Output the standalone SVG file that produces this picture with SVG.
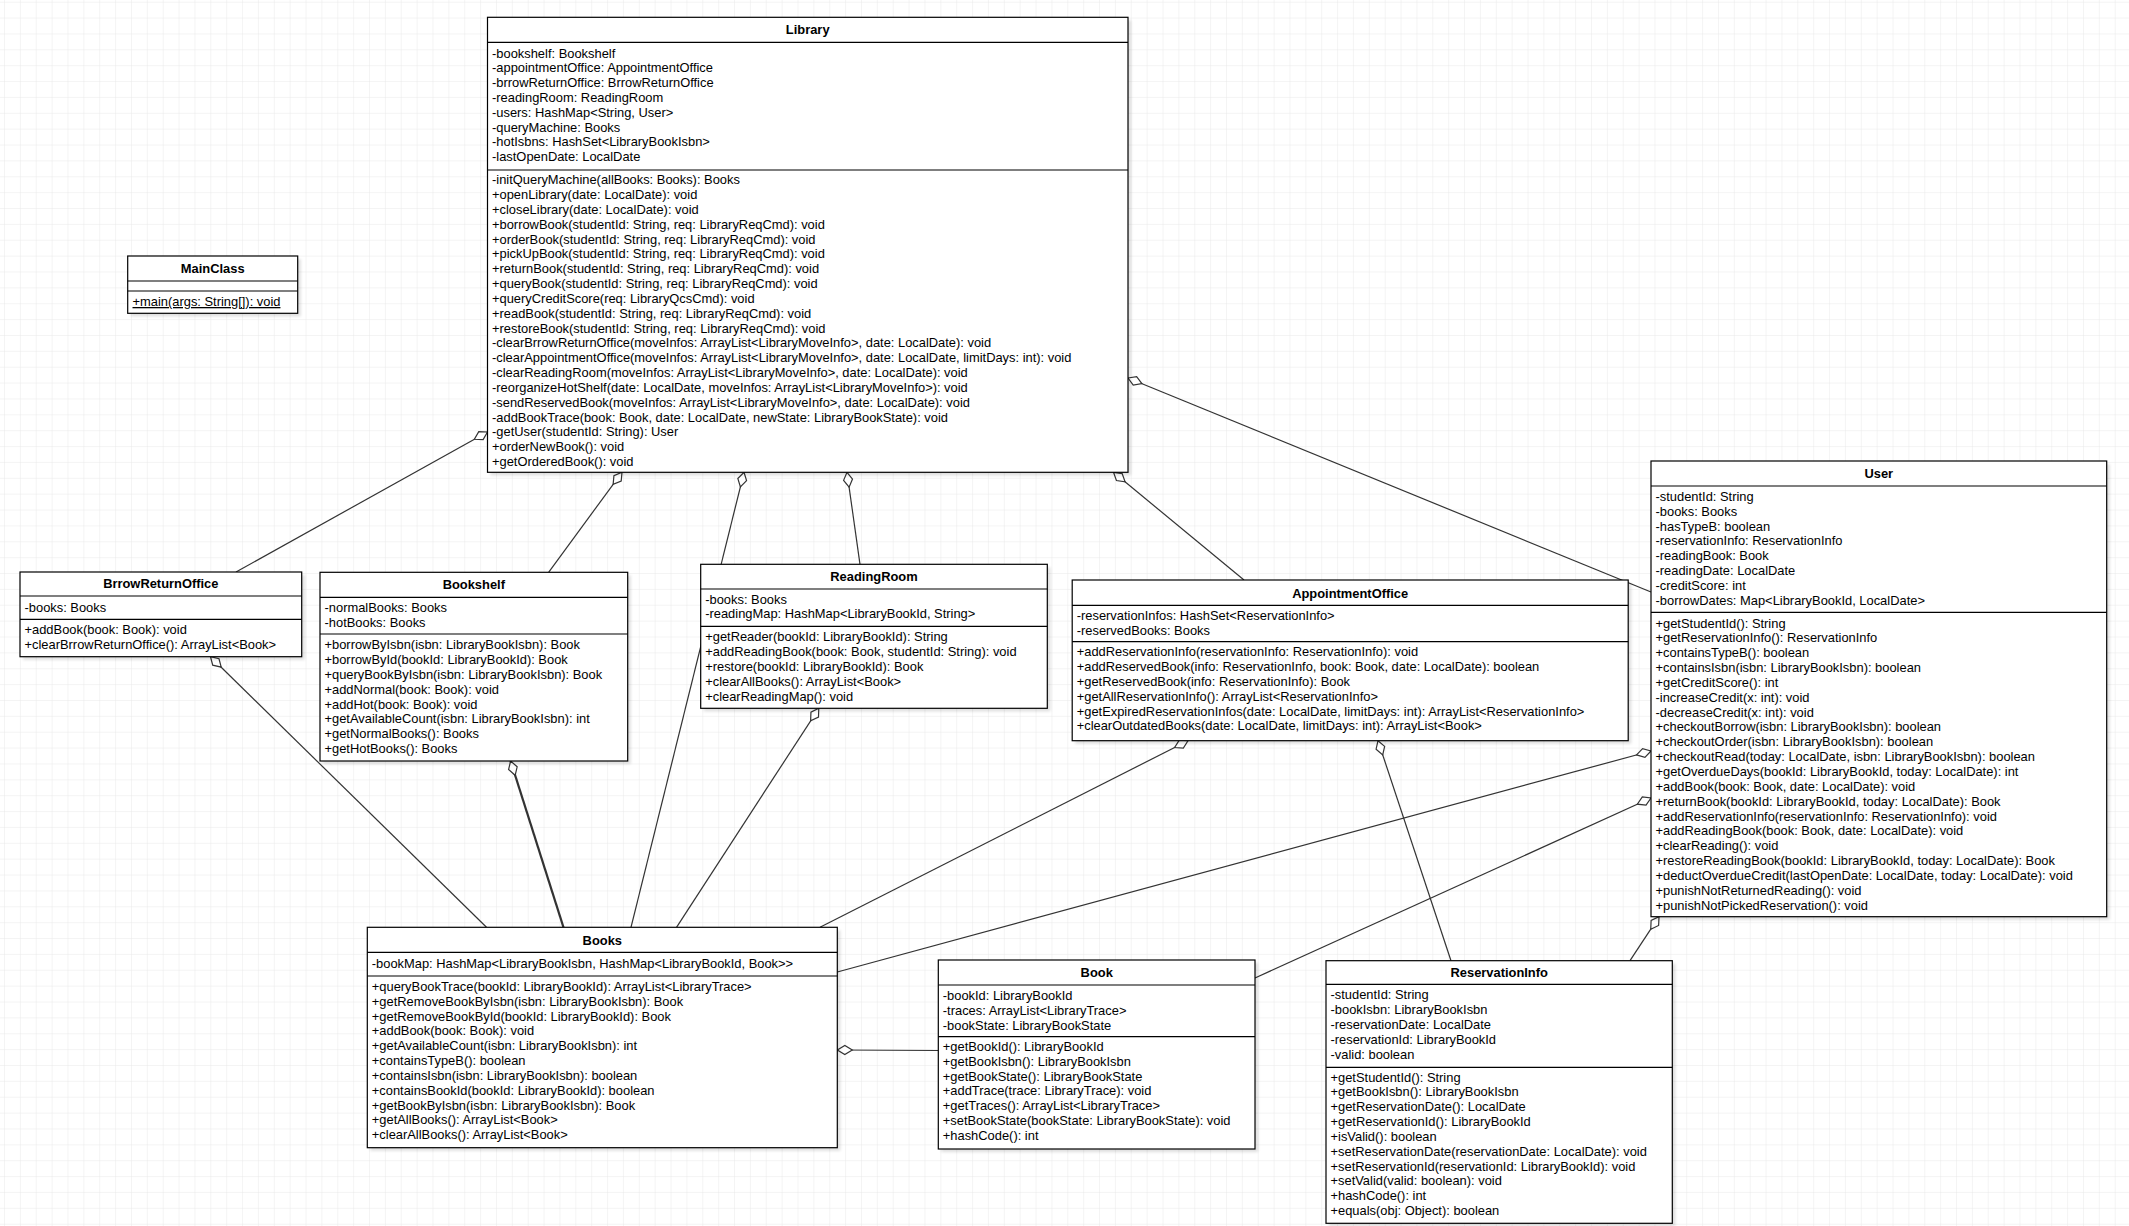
<svg xmlns="http://www.w3.org/2000/svg" width="2129" height="1226" viewBox="0 0 2129 1226">
<style>
.box{fill:#fff;stroke:#000;stroke-width:1.2}
.div{stroke:#000;stroke-width:1.2}
.sh{fill:#000;opacity:0.13;filter:url(#blur)}
.t{font-family:"Liberation Sans",Arial,Helvetica,sans-serif;font-size:12.9px;fill:#000}
.tt{font-family:"Liberation Sans",Arial,Helvetica,sans-serif;font-size:12.9px;font-weight:bold;fill:#000;text-anchor:middle}
.c{fill:none;stroke:#333;stroke-width:1.2;marker-start:url(#agg)}
</style>
<defs>
<pattern id="grid" patternUnits="userSpaceOnUse" x="4" y="1.7" width="15.87" height="15.87">
<path d="M15.87 0 L0 0 0 15.87" fill="none" stroke="#e9e9e9" stroke-width="1"/>
</pattern>
<filter id="blur" x="-10%" y="-10%" width="120%" height="120%"><feGaussianBlur stdDeviation="1.5"/></filter>
<marker id="agg" markerUnits="userSpaceOnUse" markerWidth="16" markerHeight="12" refX="0" refY="6" orient="auto" viewBox="0 0 16 12" overflow="visible">
<path d="M0,6 L7.5,1.5 L15,6 L7.5,10.5 Z" fill="#fff" stroke="#333" stroke-width="1.2"/>
</marker>
</defs>
<rect x="0" y="0" width="2129" height="1226" fill="#fff"/>
<rect x="0" y="0" width="2129" height="1226" fill="url(#grid)"/>

<g id="connectors">
<path class="c" d="M487.5 432 L236 572"/>
<path class="c" d="M622 472.3 L548.6 572.3"/>
<path class="c" d="M744 472.3 L631 927.3"/>
<path class="c" d="M847 472.3 L860 564.3"/>
<path class="c" d="M1113.5 472.3 L1244 580"/>
<path class="c" d="M1128 378 L1651 592"/>
<path class="c" d="M210.5 656.7 L486.5 927.3"/>
<path class="c" d="M510.6 761 L563.5 927.3" style="stroke-width:2.2"/>
<path class="c" d="M818.8 708.3 L676.5 927.3"/>
<path class="c" d="M1188 740.7 L820 927.3"/>
<path class="c" d="M1651 751 L837.3 972"/>
<path class="c" d="M1651 798 L1255 978"/>
<path class="c" d="M1659 916.7 L1630 960.7"/>
<path class="c" d="M1378 740.7 L1451 960.7"/>
<path class="c" d="M837.3 1050 L938.3 1050.5"/>
</g>

<g id="Library">
<rect class="sh" x="490.5" y="20.3" width="640.5" height="455"/>
<rect class="box" x="487.5" y="17.3" width="640.5" height="455"/>
<line class="div" x1="487.5" y1="42.3" x2="1128" y2="42.3"/>
<line class="div" x1="487.5" y1="170" x2="1128" y2="170"/>
<text class="tt" x="807.7" y="34.3">Library</text>
<text class="t" y="57.6">
<tspan x="492">-bookshelf: Bookshelf</tspan>
<tspan x="492" dy="14.8">-appointmentOffice: AppointmentOffice</tspan>
<tspan x="492" dy="14.8">-brrowReturnOffice: BrrowReturnOffice</tspan>
<tspan x="492" dy="14.8">-readingRoom: ReadingRoom</tspan>
<tspan x="492" dy="14.8">-users: HashMap&lt;String, User&gt;</tspan>
<tspan x="492" dy="14.8">-queryMachine: Books</tspan>
<tspan x="492" dy="14.8">-hotIsbns: HashSet&lt;LibraryBookIsbn&gt;</tspan>
<tspan x="492" dy="14.8">-lastOpenDate: LocalDate</tspan>
</text>
<text class="t" y="184.3">
<tspan x="492">-initQueryMachine(allBooks: Books): Books</tspan>
<tspan x="492" dy="14.83">+openLibrary(date: LocalDate): void</tspan>
<tspan x="492" dy="14.83">+closeLibrary(date: LocalDate): void</tspan>
<tspan x="492" dy="14.83">+borrowBook(studentId: String, req: LibraryReqCmd): void</tspan>
<tspan x="492" dy="14.83">+orderBook(studentId: String, req: LibraryReqCmd): void</tspan>
<tspan x="492" dy="14.83">+pickUpBook(studentId: String, req: LibraryReqCmd): void</tspan>
<tspan x="492" dy="14.83">+returnBook(studentId: String, req: LibraryReqCmd): void</tspan>
<tspan x="492" dy="14.83">+queryBook(studentId: String, req: LibraryReqCmd): void</tspan>
<tspan x="492" dy="14.83">+queryCreditScore(req: LibraryQcsCmd): void</tspan>
<tspan x="492" dy="14.83">+readBook(studentId: String, req: LibraryReqCmd): void</tspan>
<tspan x="492" dy="14.83">+restoreBook(studentId: String, req: LibraryReqCmd): void</tspan>
<tspan x="492" dy="14.83">-clearBrrowReturnOffice(moveInfos: ArrayList&lt;LibraryMoveInfo&gt;, date: LocalDate): void</tspan>
<tspan x="492" dy="14.83">-clearAppointmentOffice(moveInfos: ArrayList&lt;LibraryMoveInfo&gt;, date: LocalDate, limitDays: int): void</tspan>
<tspan x="492" dy="14.83">-clearReadingRoom(moveInfos: ArrayList&lt;LibraryMoveInfo&gt;, date: LocalDate): void</tspan>
<tspan x="492" dy="14.83">-reorganizeHotShelf(date: LocalDate, moveInfos: ArrayList&lt;LibraryMoveInfo&gt;): void</tspan>
<tspan x="492" dy="14.83">-sendReservedBook(moveInfos: ArrayList&lt;LibraryMoveInfo&gt;, date: LocalDate): void</tspan>
<tspan x="492" dy="14.83">-addBookTrace(book: Book, date: LocalDate, newState: LibraryBookState): void</tspan>
<tspan x="492" dy="14.83">-getUser(studentId: String): User</tspan>
<tspan x="492" dy="14.83">+orderNewBook(): void</tspan>
<tspan x="492" dy="14.83">+getOrderedBook(): void</tspan>
</text>
</g>

<g id="MainClass">
<rect class="sh" x="130.7" y="259" width="170" height="57.3"/>
<rect class="box" x="127.7" y="256" width="170" height="57.3"/>
<line class="div" x1="127.7" y1="281" x2="297.7" y2="281"/>
<line class="div" x1="127.7" y1="291" x2="297.7" y2="291"/>
<text class="tt" x="212.7" y="272.6">MainClass</text>
<text class="t" x="132.5" y="306" text-decoration="underline">+main(args: String[]): void</text>
</g>

<g id="BrrowReturnOffice">
<rect class="sh" x="23" y="575" width="281.7" height="84.7"/>
<rect class="box" x="20" y="572" width="281.7" height="84.7"/>
<line class="div" x1="20" y1="596" x2="301.7" y2="596"/>
<line class="div" x1="20" y1="619.3" x2="301.7" y2="619.3"/>
<text class="tt" x="160.8" y="588.3">BrrowReturnOffice</text>
<text class="t" x="24.5" y="612">-books: Books</text>
<text class="t" y="634.3">
<tspan x="24.5">+addBook(book: Book): void</tspan>
<tspan x="24.5" dy="14.83">+clearBrrowReturnOffice(): ArrayList&lt;Book&gt;</tspan>
</text>
</g>

<g id="Bookshelf">
<rect class="sh" x="323" y="575.3" width="307.7" height="188.7"/>
<rect class="box" x="320" y="572.3" width="307.7" height="188.7"/>
<line class="div" x1="320" y1="597.3" x2="627.7" y2="597.3"/>
<line class="div" x1="320" y1="634" x2="627.7" y2="634"/>
<text class="tt" x="473.8" y="588.6">Bookshelf</text>
<text class="t" y="612">
<tspan x="324.5">-normalBooks: Books</tspan>
<tspan x="324.5" dy="14.8">-hotBooks: Books</tspan>
</text>
<text class="t" y="649.3">
<tspan x="324.5">+borrowByIsbn(isbn: LibraryBookIsbn): Book</tspan>
<tspan x="324.5" dy="14.83">+borrowById(bookId: LibraryBookId): Book</tspan>
<tspan x="324.5" dy="14.83">+queryBookByIsbn(isbn: LibraryBookIsbn): Book</tspan>
<tspan x="324.5" dy="14.83">+addNormal(book: Book): void</tspan>
<tspan x="324.5" dy="14.83">+addHot(book: Book): void</tspan>
<tspan x="324.5" dy="14.83">+getAvailableCount(isbn: LibraryBookIsbn): int</tspan>
<tspan x="324.5" dy="14.83">+getNormalBooks(): Books</tspan>
<tspan x="324.5" dy="14.83">+getHotBooks(): Books</tspan>
</text>
</g>

<g id="ReadingRoom">
<rect class="sh" x="703.7" y="567.3" width="346.6" height="144"/>
<rect class="box" x="700.7" y="564.3" width="346.6" height="144"/>
<line class="div" x1="700.7" y1="589" x2="1047.3" y2="589"/>
<line class="div" x1="700.7" y1="626.3" x2="1047.3" y2="626.3"/>
<text class="tt" x="874" y="581">ReadingRoom</text>
<text class="t" y="603.6">
<tspan x="705.2">-books: Books</tspan>
<tspan x="705.2" dy="14.8">-readingMap: HashMap&lt;LibraryBookId, String&gt;</tspan>
</text>
<text class="t" y="641.3">
<tspan x="705.2">+getReader(bookId: LibraryBookId): String</tspan>
<tspan x="705.2" dy="14.83">+addReadingBook(book: Book, studentId: String): void</tspan>
<tspan x="705.2" dy="14.83">+restore(bookId: LibraryBookId): Book</tspan>
<tspan x="705.2" dy="14.83">+clearAllBooks(): ArrayList&lt;Book&gt;</tspan>
<tspan x="705.2" dy="14.83">+clearReadingMap(): void</tspan>
</text>
</g>

<g id="AppointmentOffice">
<rect class="sh" x="1075.2" y="583" width="556" height="160.7"/>
<rect class="box" x="1072.2" y="580" width="556" height="160.7"/>
<line class="div" x1="1072.2" y1="605.3" x2="1628.2" y2="605.3"/>
<line class="div" x1="1072.2" y1="641.7" x2="1628.2" y2="641.7"/>
<text class="tt" x="1350.2" y="597.6">AppointmentOffice</text>
<text class="t" y="620">
<tspan x="1076.7">-reservationInfos: HashSet&lt;ReservationInfo&gt;</tspan>
<tspan x="1076.7" dy="14.8">-reservedBooks: Books</tspan>
</text>
<text class="t" y="656.3">
<tspan x="1076.7">+addReservationInfo(reservationInfo: ReservationInfo): void</tspan>
<tspan x="1076.7" dy="14.83">+addReservedBook(info: ReservationInfo, book: Book, date: LocalDate): boolean</tspan>
<tspan x="1076.7" dy="14.83">+getReservedBook(info: ReservationInfo): Book</tspan>
<tspan x="1076.7" dy="14.83">+getAllReservationInfo(): ArrayList&lt;ReservationInfo&gt;</tspan>
<tspan x="1076.7" dy="14.83">+getExpiredReservationInfos(date: LocalDate, limitDays: int): ArrayList&lt;ReservationInfo&gt;</tspan>
<tspan x="1076.7" dy="14.83">+clearOutdatedBooks(date: LocalDate, limitDays: int): ArrayList&lt;Book&gt;</tspan>
</text>
</g>

<g id="User">
<rect class="sh" x="1654" y="464" width="455.7" height="455.7"/>
<rect class="box" x="1651" y="461" width="455.7" height="455.7"/>
<line class="div" x1="1651" y1="486" x2="2106.7" y2="486"/>
<line class="div" x1="1651" y1="612.3" x2="2106.7" y2="612.3"/>
<text class="tt" x="1878.8" y="477.6">User</text>
<text class="t" y="501">
<tspan x="1655.5">-studentId: String</tspan>
<tspan x="1655.5" dy="14.8">-books: Books</tspan>
<tspan x="1655.5" dy="14.8">-hasTypeB: boolean</tspan>
<tspan x="1655.5" dy="14.8">-reservationInfo: ReservationInfo</tspan>
<tspan x="1655.5" dy="14.8">-readingBook: Book</tspan>
<tspan x="1655.5" dy="14.8">-readingDate: LocalDate</tspan>
<tspan x="1655.5" dy="14.8">-creditScore: int</tspan>
<tspan x="1655.5" dy="14.8">-borrowDates: Map&lt;LibraryBookId, LocalDate&gt;</tspan>
</text>
<text class="t" y="627.6">
<tspan x="1655.5">+getStudentId(): String</tspan>
<tspan x="1655.5" dy="14.84">+getReservationInfo(): ReservationInfo</tspan>
<tspan x="1655.5" dy="14.84">+containsTypeB(): boolean</tspan>
<tspan x="1655.5" dy="14.84">+containsIsbn(isbn: LibraryBookIsbn): boolean</tspan>
<tspan x="1655.5" dy="14.84">+getCreditScore(): int</tspan>
<tspan x="1655.5" dy="14.84">-increaseCredit(x: int): void</tspan>
<tspan x="1655.5" dy="14.84">-decreaseCredit(x: int): void</tspan>
<tspan x="1655.5" dy="14.84">+checkoutBorrow(isbn: LibraryBookIsbn): boolean</tspan>
<tspan x="1655.5" dy="14.84">+checkoutOrder(isbn: LibraryBookIsbn): boolean</tspan>
<tspan x="1655.5" dy="14.84">+checkoutRead(today: LocalDate, isbn: LibraryBookIsbn): boolean</tspan>
<tspan x="1655.5" dy="14.84">+getOverdueDays(bookId: LibraryBookId, today: LocalDate): int</tspan>
<tspan x="1655.5" dy="14.84">+addBook(book: Book, date: LocalDate): void</tspan>
<tspan x="1655.5" dy="14.84">+returnBook(bookId: LibraryBookId, today: LocalDate): Book</tspan>
<tspan x="1655.5" dy="14.84">+addReservationInfo(reservationInfo: ReservationInfo): void</tspan>
<tspan x="1655.5" dy="14.84">+addReadingBook(book: Book, date: LocalDate): void</tspan>
<tspan x="1655.5" dy="14.84">+clearReading(): void</tspan>
<tspan x="1655.5" dy="14.84">+restoreReadingBook(bookId: LibraryBookId, today: LocalDate): Book</tspan>
<tspan x="1655.5" dy="14.84">+deductOverdueCredit(lastOpenDate: LocalDate, today: LocalDate): void</tspan>
<tspan x="1655.5" dy="14.84">+punishNotReturnedReading(): void</tspan>
<tspan x="1655.5" dy="14.84">+punishNotPickedReservation(): void</tspan>
</text>
</g>

<g id="Books">
<rect class="sh" x="370.3" y="930.3" width="470" height="220.4"/>
<rect class="box" x="367.3" y="927.3" width="470" height="220.4"/>
<line class="div" x1="367.3" y1="952.3" x2="837.3" y2="952.3"/>
<line class="div" x1="367.3" y1="976" x2="837.3" y2="976"/>
<text class="tt" x="602.3" y="945">Books</text>
<text class="t" x="371.8" y="968.3">-bookMap: HashMap&lt;LibraryBookIsbn, HashMap&lt;LibraryBookId, Book&gt;&gt;</text>
<text class="t" y="991">
<tspan x="371.8">+queryBookTrace(bookId: LibraryBookId): ArrayList&lt;LibraryTrace&gt;</tspan>
<tspan x="371.8" dy="14.83">+getRemoveBookByIsbn(isbn: LibraryBookIsbn): Book</tspan>
<tspan x="371.8" dy="14.83">+getRemoveBookById(bookId: LibraryBookId): Book</tspan>
<tspan x="371.8" dy="14.83">+addBook(book: Book): void</tspan>
<tspan x="371.8" dy="14.83">+getAvailableCount(isbn: LibraryBookIsbn): int</tspan>
<tspan x="371.8" dy="14.83">+containsTypeB(): boolean</tspan>
<tspan x="371.8" dy="14.83">+containsIsbn(isbn: LibraryBookIsbn): boolean</tspan>
<tspan x="371.8" dy="14.83">+containsBookId(bookId: LibraryBookId): boolean</tspan>
<tspan x="371.8" dy="14.83">+getBookByIsbn(isbn: LibraryBookIsbn): Book</tspan>
<tspan x="371.8" dy="14.83">+getAllBooks(): ArrayList&lt;Book&gt;</tspan>
<tspan x="371.8" dy="14.83">+clearAllBooks(): ArrayList&lt;Book&gt;</tspan>
</text>
</g>

<g id="Book">
<rect class="sh" x="941.3" y="963" width="316.7" height="189"/>
<rect class="box" x="938.3" y="960" width="316.7" height="189"/>
<line class="div" x1="938.3" y1="985" x2="1255" y2="985"/>
<line class="div" x1="938.3" y1="1036.7" x2="1255" y2="1036.7"/>
<text class="tt" x="1096.7" y="976.6">Book</text>
<text class="t" y="1000.3">
<tspan x="942.8">-bookId: LibraryBookId</tspan>
<tspan x="942.8" dy="14.8">-traces: ArrayList&lt;LibraryTrace&gt;</tspan>
<tspan x="942.8" dy="14.8">-bookState: LibraryBookState</tspan>
</text>
<text class="t" y="1051">
<tspan x="942.8">+getBookId(): LibraryBookId</tspan>
<tspan x="942.8" dy="14.83">+getBookIsbn(): LibraryBookIsbn</tspan>
<tspan x="942.8" dy="14.83">+getBookState(): LibraryBookState</tspan>
<tspan x="942.8" dy="14.83">+addTrace(trace: LibraryTrace): void</tspan>
<tspan x="942.8" dy="14.83">+getTraces(): ArrayList&lt;LibraryTrace&gt;</tspan>
<tspan x="942.8" dy="14.83">+setBookState(bookState: LibraryBookState): void</tspan>
<tspan x="942.8" dy="14.83">+hashCode(): int</tspan>
</text>
</g>

<g id="ReservationInfo">
<rect class="sh" x="1329" y="963.7" width="346.3" height="262.6"/>
<rect class="box" x="1326" y="960.7" width="346.3" height="262.6"/>
<line class="div" x1="1326" y1="984.3" x2="1672.3" y2="984.3"/>
<line class="div" x1="1326" y1="1067.3" x2="1672.3" y2="1067.3"/>
<text class="tt" x="1499.2" y="977">ReservationInfo</text>
<text class="t" y="999.3">
<tspan x="1330.5">-studentId: String</tspan>
<tspan x="1330.5" dy="14.83">-bookIsbn: LibraryBookIsbn</tspan>
<tspan x="1330.5" dy="14.83">-reservationDate: LocalDate</tspan>
<tspan x="1330.5" dy="14.83">-reservationId: LibraryBookId</tspan>
<tspan x="1330.5" dy="14.83">-valid: boolean</tspan>
</text>
<text class="t" y="1081.6">
<tspan x="1330.5">+getStudentId(): String</tspan>
<tspan x="1330.5" dy="14.83">+getBookIsbn(): LibraryBookIsbn</tspan>
<tspan x="1330.5" dy="14.83">+getReservationDate(): LocalDate</tspan>
<tspan x="1330.5" dy="14.83">+getReservationId(): LibraryBookId</tspan>
<tspan x="1330.5" dy="14.83">+isValid(): boolean</tspan>
<tspan x="1330.5" dy="14.83">+setReservationDate(reservationDate: LocalDate): void</tspan>
<tspan x="1330.5" dy="14.83">+setReservationId(reservationId: LibraryBookId): void</tspan>
<tspan x="1330.5" dy="14.83">+setValid(valid: boolean): void</tspan>
<tspan x="1330.5" dy="14.83">+hashCode(): int</tspan>
<tspan x="1330.5" dy="14.83">+equals(obj: Object): boolean</tspan>
</text>
</g>
</svg>
